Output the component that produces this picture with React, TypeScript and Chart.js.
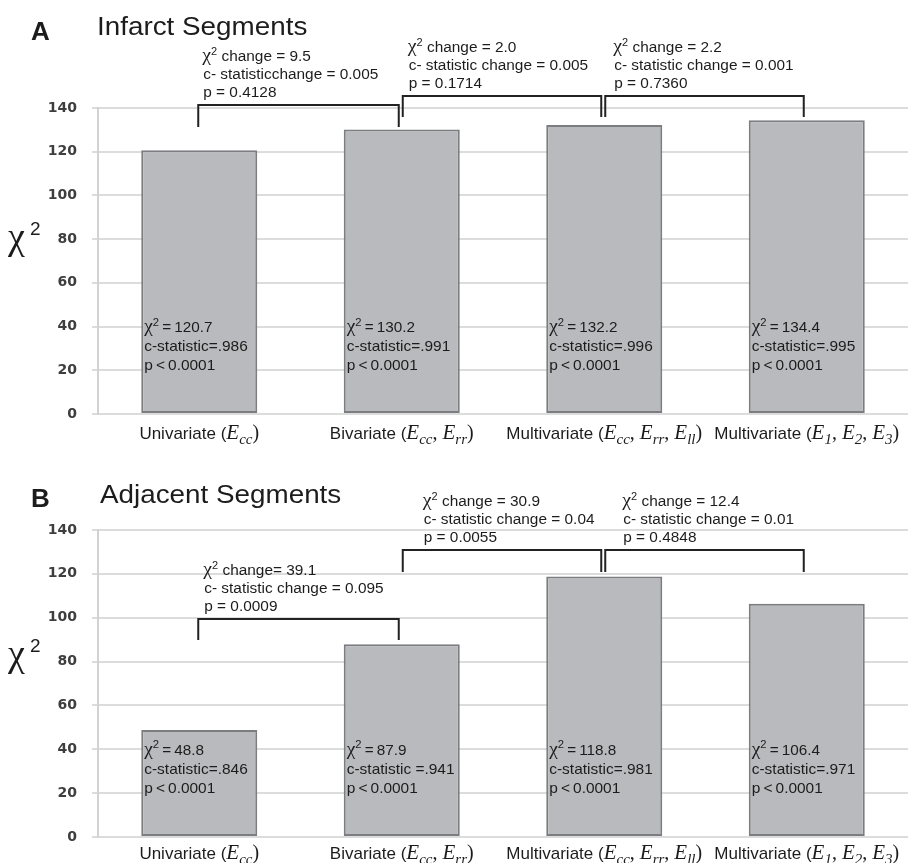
import React, { useEffect, useRef } from "react";
import { Chart, registerables } from "chart.js";

Chart.register(...registerables);

// ---- data ----
const categories = [
  "Univariate (E_{cc})",
  "Bivariate (E_{cc}, E_{rr})",
  "Multivariate (E_{cc}, E_{rr}, E_{ll})",
  "Multivariate (E_{1}, E_{2}, E_{3})",
];
const yTicks = [0, 20, 40, 60, 80, 100, 120, 140];

const infarctChi2 = [120.7, 130.2, 132.2, 134.4];
const infarctCStat = ["=.986", "=.991", "=.996", "=.995"];
const infarctP = ["< 0.0001", "< 0.0001", "< 0.0001", "< 0.0001"];
const infarctNotes = [
  ["χ² change = 9.5", "c- statisticchange = 0.005", "p = 0.4128"],
  ["χ² change = 2.0", "c- statistic change = 0.005", "p = 0.1714"],
  ["χ² change = 2.2", "c- statistic change = 0.001", "p = 0.7360"],
];

const adjacentChi2 = [48.8, 87.9, 118.8, 106.4];
const adjacentCStat = ["=.846", " =.941", "=.981", "=.971"];
const adjacentP = ["< 0.0001", "< 0.0001", "< 0.0001", "< 0.0001"];
const adjacentNotes = [
  ["χ² change= 39.1", "c- statistic change = 0.095", "p = 0.0009"],
  ["χ² change = 30.9", "c- statistic change = 0.04", "p = 0.0055"],
  ["χ² change = 12.4", "c- statistic change = 0.01", "p = 0.4848"],
];

// ---- styling ----
const SANS = '"Liberation Sans", Arial, Helvetica, sans-serif';
const SERIF = '"Liberation Serif", "Times New Roman", serif';
const INK = "#1c1c1c";
const BAR_FILL = "#b9babd";
const BAR_EDGE = "#7c7d80";
const GRID = "#dcdcdc";

type Run = { t: string; font: string; dy?: number };

type PanelCfg = {
  id: string;
  letter: string;
  title: string;
  values: number[];
  cstats: string[];
  pvals: string[];
  notes: string[][];
  canvasH: number;
  top: number;
  xAxisH: number;
  letterY: number;
  titleX: number;
  titleY: number;
  supY: number;
  brackets: [number, number][]; // [top, leg end] in χ² units
  noteDx: number[];
  xLabelDy: number;
};

const infarctPanel: PanelCfg = {
  id: "infarct",
  letter: "A",
  title: "Infarct Segments",
  values: infarctChi2,
  cstats: infarctCStat,
  pvals: infarctP,
  notes: infarctNotes,
  canvasH: 450,
  top: 108,
  xAxisH: 36,
  letterY: 40,
  titleX: 97,
  titleY: 35,
  supY: 235,
  brackets: [
    [141.4, 131.3],
    [145.5, 135.9],
    [145.5, 135.9],
  ],
  noteDx: [4, 5, 8],
  xLabelDy: 25,
};

const adjacentPanel: PanelCfg = {
  id: "adjacent",
  letter: "B",
  title: "Adjacent Segments",
  values: adjacentChi2,
  cstats: adjacentCStat,
  pvals: adjacentP,
  notes: adjacentNotes,
  canvasH: 413,
  top: 80,
  xAxisH: 26,
  letterY: 57,
  titleX: 100,
  titleY: 53,
  supY: 202,
  brackets: [
    [99.4, 89.8],
    [130.9, 120.8],
    [130.9, 120.8],
  ],
  noteDx: [5, 20, 17],
  xLabelDy: 22,
};

// ---- text helpers ----
function drawRuns(
  ctx: CanvasRenderingContext2D,
  runs: Run[],
  x: number,
  y: number,
  align: "left" | "center" = "left",
  sx = 1
) {
  ctx.save();
  ctx.textBaseline = "alphabetic";
  ctx.textAlign = "left";
  const widths = runs.map((r) => {
    ctx.font = r.font;
    return ctx.measureText(r.t).width;
  });
  const total = widths.reduce((a, b) => a + b, 0) * sx;
  const startX = align === "center" ? x - total / 2 : x;
  ctx.translate(startX, y);
  ctx.scale(sx, 1);
  let px = 0;
  runs.forEach((r, i) => {
    ctx.font = r.font;
    ctx.fillText(r.t, px, r.dy || 0);
    px += widths[i];
  });
  ctx.restore();
}

function chiRuns(line: string, size: number): Run[] {
  if (line.startsWith("χ²")) {
    return [
      { t: "χ", font: `${size + 4}px ${SERIF}` },
      { t: "2", font: `${Math.round(size * 0.72)}px ${SANS}`, dy: -size * 0.42 },
      { t: line.slice(2), font: `${size}px ${SANS}` },
    ];
  }
  return [{ t: line, font: `${size}px ${SANS}` }];
}

function categoryRuns(label: string): Run[] {
  const i = label.indexOf("(");
  const runs: Run[] = [{ t: label.slice(0, i + 1), font: `17px ${SANS}` }];
  const rest = label.slice(i + 1);
  const re = /E_\{([^}]*)\}|[^E]+/g;
  let m: RegExpExecArray | null;
  while ((m = re.exec(rest))) {
    if (m[1] !== undefined) {
      runs.push({ t: "E", font: `italic 21px ${SERIF}` });
      runs.push({ t: m[1], font: `italic 15px ${SERIF}`, dy: 5 });
    } else {
      runs.push({ t: m[0], font: `20px ${SERIF}` });
    }
  }
  return runs;
}

function makeDecor(p: PanelCfg) {
  return {
    id: "decor-" + p.id,
    afterDraw(chart: any) {
      const ctx: CanvasRenderingContext2D = chart.ctx;
      const xs = chart.scales.x;
      const ys = chart.scales.y;
      const area = chart.chartArea;
      ctx.save();
      ctx.fillStyle = INK;

      // panel letter and title
      drawRuns(ctx, [{ t: p.letter, font: `bold 26px ${SANS}` }], 31, p.letterY);
      drawRuns(ctx, [{ t: p.title, font: `26px ${SANS}` }], p.titleX, p.titleY, "left", 1.07);

      // axis title χ²
      drawRuns(ctx, [{ t: "χ", font: `38px ${SERIF}` }], 8, p.supY + 14);
      drawRuns(ctx, [{ t: "2", font: `19px ${SANS}` }], 30, p.supY);

      // category labels
      categories.forEach((c, i) => {
        drawRuns(ctx, categoryRuns(c), xs.getPixelForValue(i), area.bottom + p.xLabelDy, "center");
      });

      // labels inside the bars
      const base = ys.getPixelForValue(37.5);
      p.values.forEach((v, i) => {
        const x = xs.getPixelForValue(i) - 55;
        drawRuns(ctx, chiRuns(`χ²\u2009=\u2009${v.toFixed(1)}`, 15), x, base, "left", 1.02);
        drawRuns(ctx, [{ t: `c-statistic${p.cstats[i]}`, font: `15px ${SANS}` }], x, base + 19, "left", 1.03);
        drawRuns(ctx, [{ t: `p\u2009${p.pvals[i].replace(/ /g, "\u2009")}`, font: `15px ${SANS}` }], x, base + 38, "left", 1.03);
      });

      // comparison brackets with their notes
      ctx.strokeStyle = "#222";
      ctx.lineWidth = 2;
      p.brackets.forEach(([topV, legV], i) => {
        const left = xs.getPixelForValue(i) + (i === 0 ? -1 : 1);
        const right = xs.getPixelForValue(i + 1) - 3;
        const top = Math.round(ys.getPixelForValue(topV));
        const leg = ys.getPixelForValue(legV);
        ctx.beginPath();
        ctx.moveTo(left, leg);
        ctx.lineTo(left, top);
        ctx.lineTo(right, top);
        ctx.lineTo(right, leg);
        ctx.stroke();
        const lines = p.notes[i];
        lines.forEach((ln, k) => {
          const y = top - 8 - 18 * (lines.length - 1 - k);
          drawRuns(ctx, chiRuns(ln, 14), left + p.noteDx[i] + (k > 0 ? 1 : 0), y, "left", 1.1);
        });
      });
      ctx.restore();
    },
  };
}

function Panel({ p }: { p: PanelCfg }) {
  const ref = useRef<HTMLCanvasElement>(null);
  useEffect(() => {
    if (!ref.current) return;
    const chart = new Chart(ref.current, {
      type: "bar",
      data: {
        labels: categories,
        datasets: [
          {
            data: p.values,
            backgroundColor: BAR_FILL,
            borderColor: BAR_EDGE,
            borderWidth: 2,
            borderSkipped: false,
            barPercentage: 0.573,
            categoryPercentage: 1,
          },
        ],
      },
      options: {
        responsive: false,
        animation: false,
        devicePixelRatio: 1,
        layout: { padding: { left: 0, right: 8, top: p.top, bottom: 0 } },
        plugins: {
          legend: { display: false },
          tooltip: { enabled: false },
          title: { display: false },
        },
        scales: {
          x: {
            grid: { display: false },
            border: { display: false },
            ticks: { display: false },
            afterFit: (s: any) => {
              s.height = p.xAxisH;
            },
          },
          y: {
            min: yTicks[0],
            max: yTicks[yTicks.length - 1],
            afterBuildTicks: (s: any) => {
              s.ticks = yTicks.map((v) => ({ value: v }));
            },
            ticks: {
              color: "#3e3e3e",
              padding: 15,
              font: { family: '"DejaVu Sans", sans-serif', weight: "bold", size: 14 },
            },
            grid: { color: GRID, lineWidth: 2, tickLength: 6 },
            border: { color: "#d2d2d2", width: 2 },
            afterFit: (s: any) => {
              s.width = 98;
            },
          },
        },
      },
      plugins: [makeDecor(p)],
    } as any);
    return () => chart.destroy();
  }, [p]);
  return (
    <canvas
      ref={ref}
      width={916}
      height={p.canvasH}
      style={{ display: "block", width: 916, height: p.canvasH }}
    />
  );
}

export default function App() {
  return (
    <div
      style={{
        position: "absolute",
        left: 0,
        top: 0,
        width: 916,
        height: 863,
        background: "#ffffff",
        overflow: "hidden",
      }}
    >
      <Panel p={infarctPanel} />
      <Panel p={adjacentPanel} />
    </div>
  );
}
